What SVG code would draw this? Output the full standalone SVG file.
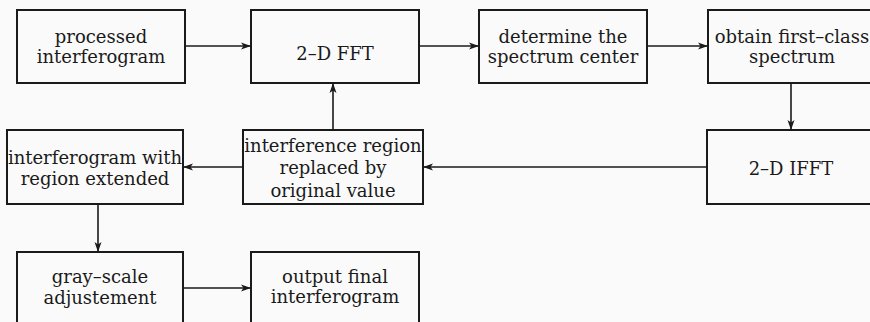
<svg xmlns="http://www.w3.org/2000/svg" width="870" height="322" viewBox="0 0 870 322">
<defs>
<marker id="ah" viewBox="0 0 10 8" refX="10" refY="4" markerWidth="10" markerHeight="8" markerUnits="userSpaceOnUse" orient="auto">
<path d="M0,0.5 L10,4 L0,7.5 L2.5,4 Z" fill="#1a1a1a"/>
</marker>
<style>
.box{fill:none;stroke:#1a1a1a;stroke-width:2}
.t{font-family:"DejaVu Serif","Liberation Serif",serif;font-size:18px;fill:#1a1a1a;text-anchor:middle}
.c{fill:none;stroke:#1a1a1a;stroke-width:1.6;marker-end:url(#ah)}
</style>
</defs>
<rect x="0" y="0" width="870" height="322" fill="#fafafa"/>
<g id="n1"><rect class="box" x="17" y="10" width="168" height="73"/><text class="t" x="101" y="43">processed</text><text class="t" x="101" y="63">interferogram</text></g>
<g id="n2"><rect class="box" x="251" y="10" width="168" height="73"/><text class="t" x="335" y="60">2–D FFT</text></g>
<g id="n3"><rect class="box" x="479" y="10" width="168" height="73"/><text class="t" x="563" y="43">determine the</text><text class="t" x="563" y="63">spectrum center</text></g>
<g id="n4"><rect class="box" x="708" y="10" width="168" height="73"/><text class="t" x="792" y="43">obtain first–class</text><text class="t" x="792" y="63">spectrum</text></g>
<g id="n5"><rect class="box" x="707" y="130" width="168" height="74"/><text class="t" x="791" y="175">2–D IFFT</text></g>
<g id="n6"><rect class="box" x="243" y="130" width="180" height="74"/><text class="t" x="333" y="152">interference region</text><text class="t" x="333" y="174">replaced by</text><text class="t" x="333" y="197">original value</text></g>
<g id="n7"><rect class="box" x="7" y="130" width="176" height="74"/><text class="t" x="95" y="164">interferogram with</text><text class="t" x="95" y="185">region extended</text></g>
<g id="n8"><rect class="box" x="17" y="252" width="166" height="74"/><text class="t" x="100" y="283">gray–scale</text><text class="t" x="100" y="304">adjustement</text></g>
<g id="n9"><rect class="box" x="251" y="252" width="168" height="74"/><text class="t" x="335" y="283">output final</text><text class="t" x="335" y="303">interferogram</text></g>
<g id="connectors">
<path class="c" d="M185,46 H251"/>
<path class="c" d="M419,46 H479"/>
<path class="c" d="M647,46 H708"/>
<path class="c" d="M791,83 V130"/>
<path class="c" d="M707,167 H423"/>
<path class="c" d="M243,167 H183"/>
<path class="c" d="M333,130 V83"/>
<path class="c" d="M98,204 V252"/>
<path class="c" d="M183,288 H251"/>
</g>
</svg>
